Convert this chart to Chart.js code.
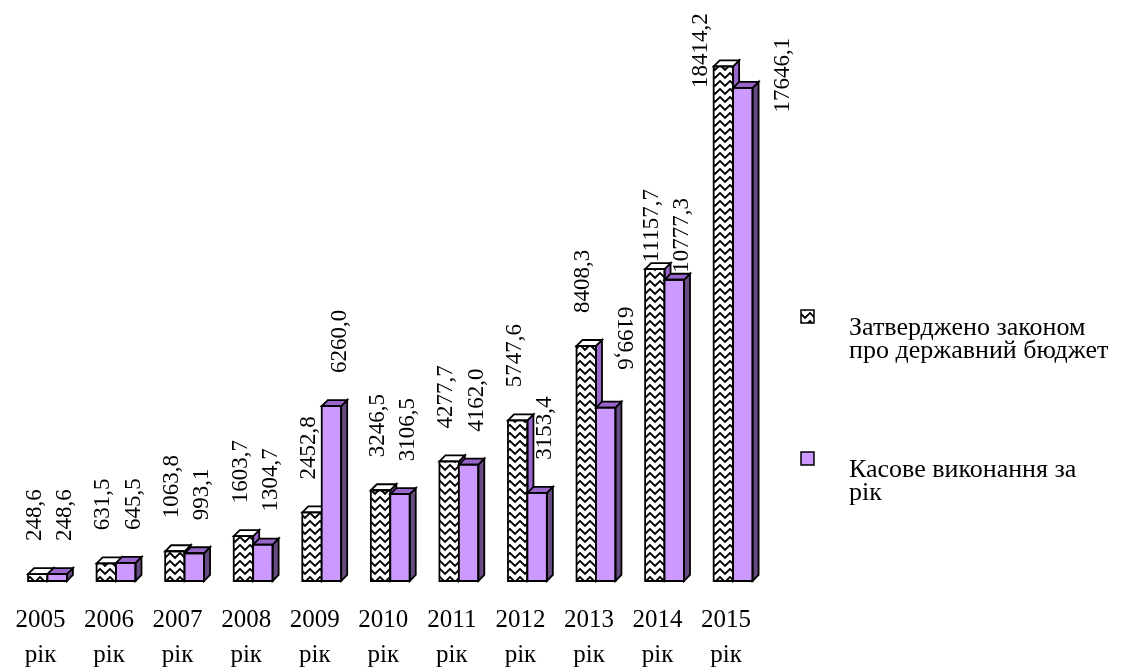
<!DOCTYPE html>
<html>
<head>
<meta charset="utf-8">
<script src="https://cdn.jsdelivr.net/npm/chart.js@4.4.1/dist/chart.umd.min.js"></script>
<style>
  html, body { margin: 0; padding: 0; background: #ffffff; }
  #wrap { width: 1135px; height: 670px; position: relative; }
</style>
</head>
<body>
<div id="wrap"><canvas id="c" width="1135" height="670"></canvas></div>
<script>
// ---- data ----
const years = ['2005', '2006', '2007', '2008', '2009', '2010', '2011', '2012', '2013', '2014', '2015'];
const yearSuffix = 'рік';
const approved = [248.6, 631.5, 1063.8, 1603.7, 2452.8, 3246.5, 4277.7, 5747.6, 8408.3, 11157.7, 18414.2];
const executed = [248.6, 645.5, 993.1, 1304.7, 6260.0, 3106.5, 4162.0, 3153.4, 6199.6, 10777.3, 17646.1];
const seriesNames = [
  ['Затверджено законом', 'про державний бюджет'],
  ['Касове виконання за', 'рік']
];
// ---- styling ----
const SERIF = '"Liberation Serif", "DejaVu Serif", serif';
const PURPLE = '#CC99FF';
const PURPLE_TOP = '#9966CC';
const PURPLE_SIDE = '#664C80';
const DX = 6, DY = 6;
const flippedLabel = { dataset: 1, index: 8 }; // label drawn upside-down in the original

function makeZigzag() {
  const c = document.createElement('canvas');
  c.width = 10; c.height = 8;
  const g = c.getContext('2d');
  g.fillStyle = '#ffffff';
  g.fillRect(0, 0, 10, 8);
  g.strokeStyle = '#000000';
  g.lineWidth = 1.9;
  g.beginPath();
  g.moveTo(-1, 0); g.lineTo(5, 6); g.lineTo(11, 0);
  g.moveTo(-1, 8); g.lineTo(0, 9);
  g.moveTo(11, 8); g.lineTo(10, 9);
  g.stroke();
  return g.createPattern(c, 'repeat');
}
const zig = makeZigzag();

function fmt(v) { return v.toFixed(1).replace('.', ','); }

function poly(ctx, pts, fill) {
  ctx.beginPath();
  ctx.moveTo(pts[0][0], pts[0][1]);
  for (let i = 1; i < pts.length; i++) ctx.lineTo(pts[i][0], pts[i][1]);
  ctx.closePath();
  ctx.fillStyle = fill;
  ctx.fill();
  ctx.lineWidth = 1.8;
  ctx.strokeStyle = '#000';
  ctx.stroke();
}

const depthPlugin = {
  id: 'depth',
  // suppress default drawing; bars are drawn in 3D order below
  beforeDatasetDraw() { return false; },
  afterDatasetsDraw(chart) {
    const ctx = chart.ctx;
    ctx.save();
    ctx.lineJoin = 'miter';
    const n = chart.data.labels.length;
    for (let i = 0; i < n; i++) {
      [0, 1].forEach(di => {
        const bar = chart.getDatasetMeta(di).data[i];
        const p = bar.getProps(['x', 'y', 'base', 'width'], true);
        const l = p.x - p.width / 2, r = p.x + p.width / 2;
        const t = p.y, b = p.base;
        bar.draw(ctx);
        const side = di === 0 ? PURPLE_TOP : PURPLE_SIDE;
        const top = di === 0 ? '#ffffff' : PURPLE_TOP;
        poly(ctx, [[r, t], [r + DX, t - DY], [r + DX, b - DY], [r, b]], side);
        poly(ctx, [[l, t], [l + DX, t - DY], [r + DX, t - DY], [r, t]], top);
        ctx.beginPath();
        ctx.rect(l, t, r - l, b - t);
        ctx.lineWidth = 1.8; ctx.strokeStyle = '#000'; ctx.stroke();
      });
    }
    ctx.restore();
  },
  afterDraw(chart) {
    const ctx = chart.ctx;
    ctx.save();
    ctx.fillStyle = '#000';
    ctx.font = '23px ' + SERIF;
    ctx.textBaseline = 'middle';
    chart.data.datasets.forEach((ds, di) => {
      const meta = chart.getDatasetMeta(di);
      meta.data.forEach((bar, i) => {
        const p = bar.getProps(['x', 'y', 'width'], true);
        const txt = fmt(ds.data[i]);
        const len = ctx.measureText(txt).width;
        const l = p.x - p.width / 2, r = p.x + p.width / 2;
        let cx = di === 0 ? p.x - 3 : p.x + 8;
        let bottom = p.y - 33;
        if (bottom - len < 180) bottom = p.y - 7;
        if (bottom - len < 20) {
          if (di === 0) { cx = l - 13; bottom = p.y - 53 + len; }
          else { cx = r + DX + 24; bottom = p.y - 50 + len; }
        }
        ctx.save();
        if (flippedLabel.dataset === di && flippedLabel.index === i) {
          const topY = p.y - 38 - len;
          ctx.translate(cx + 10, topY);
          ctx.rotate(Math.PI / 2);
        } else {
          ctx.translate(cx, bottom);
          ctx.rotate(-Math.PI / 2);
        }
        ctx.textAlign = 'left';
        ctx.fillText(txt, 0, 0);
        ctx.restore();
      });
    });
    // legend
    const markers = [{ y: 310, fill: zig }, { y: 452, fill: PURPLE }];
    ctx.font = '26px ' + SERIF;
    ctx.textBaseline = 'alphabetic';
    ctx.textAlign = 'left';
    markers.forEach((m, k) => {
      ctx.fillStyle = m.fill;
      ctx.fillRect(801, m.y, 13, 13);
      ctx.lineWidth = 1.5; ctx.strokeStyle = '#000';
      ctx.strokeRect(801, m.y, 13, 13);
      ctx.fillStyle = '#000';
      seriesNames[k].forEach((line, j) => ctx.fillText(line, 849, m.y + 25 + j * 23));
    });
    ctx.restore();
  }
};

const chart = new Chart(document.getElementById('c'), {
  type: 'bar',
  data: {
    labels: years.map(y => [y, yearSuffix]),
    datasets: [
      { label: seriesNames[0].join(' '), data: approved, backgroundColor: zig, borderColor: '#000', borderWidth: 0 },
      { label: seriesNames[1].join(' '), data: executed, backgroundColor: PURPLE, borderColor: '#000', borderWidth: 0 }
    ]
  },
  options: {
    responsive: false,
    animation: false,
    devicePixelRatio: 1,
    layout: { padding: { left: 10.6, right: 367.6, top: 22, bottom: -25 } },
    datasets: { bar: { barPercentage: 1, categoryPercentage: 0.567 } },
    plugins: { legend: { display: false }, tooltip: { enabled: false } },
    scales: {
      x: {
        grid: { display: false, drawTicks: false },
        border: { display: false },
        ticks: {
          color: '#000', autoSkip: false, maxRotation: 0, labelOffset: -7, padding: 22,
          font: { family: SERIF, size: 25, lineHeight: '35px' }
        }
      },
      y: { display: false, min: 0, max: 20000 }
    }
  },
  plugins: [depthPlugin]
});
</script>
</body>
</html>
